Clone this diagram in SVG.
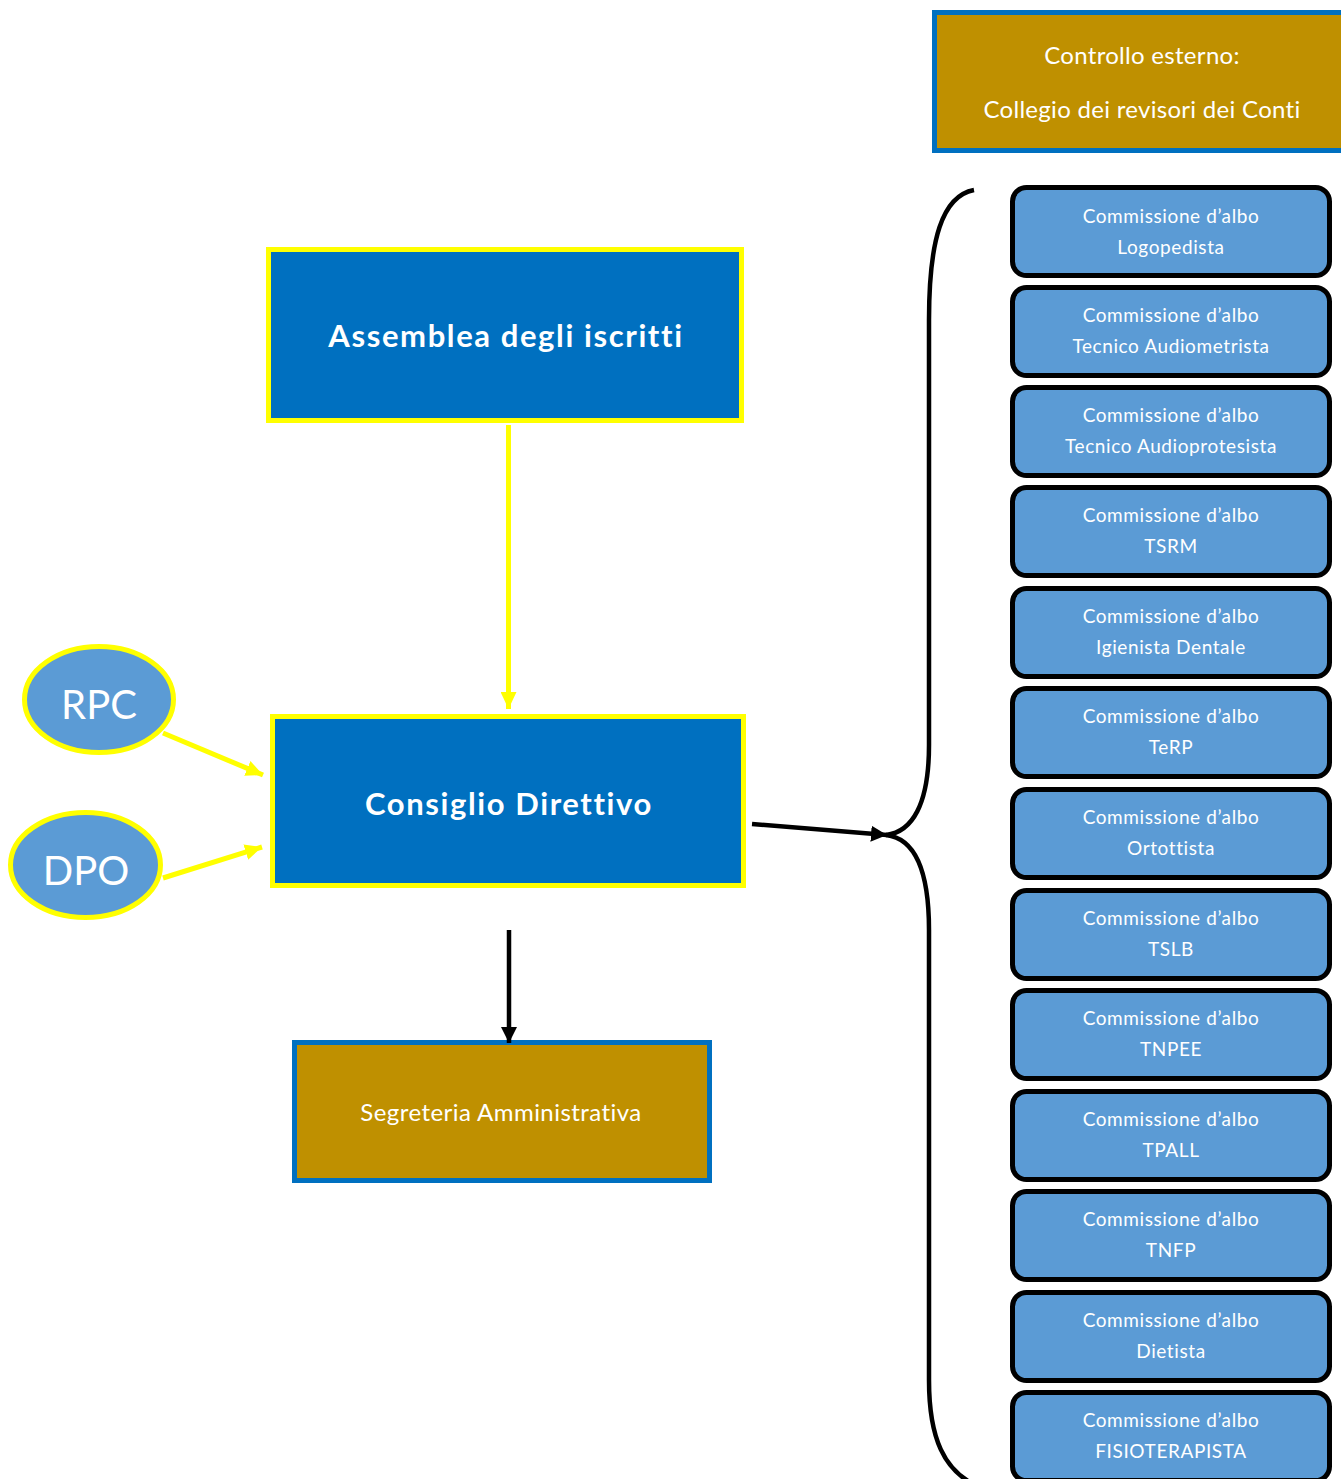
<svg xmlns="http://www.w3.org/2000/svg" width="1341" height="1479" viewBox="0 0 1341 1479">
<style>
.t{font-family:Lato,"Liberation Sans",sans-serif;fill:#fff;text-anchor:middle}
.b{font-weight:bold;font-size:31px;letter-spacing:1.6px}
.gold{fill:#BF9000;stroke:#0070C0;stroke-width:5}
.main{fill:#0070C0;stroke:#FFFF00;stroke-width:5}
.ell{fill:#5B9BD5;stroke:#FFFF00;stroke-width:5}
.com{fill:#5B9BD5;stroke:#000;stroke-width:5}
.ct{font-size:19px;letter-spacing:0.6px}
.ce{font-size:24px;letter-spacing:0.3px}
.ya{stroke:#FFFF00;stroke-width:5;fill:none}
.ka{stroke:#000;stroke-width:4.5;fill:none}
</style>
<defs>
<marker id="ay" markerUnits="userSpaceOnUse" markerWidth="18" markerHeight="16" refX="17" refY="8" orient="auto"><path d="M0,0 L17,8 L0,16 z" fill="#FFFF00"/></marker>
<marker id="ak" markerUnits="userSpaceOnUse" markerWidth="17" markerHeight="16" refX="16" refY="8" orient="auto"><path d="M0,0 L16,8 L0,16 z" fill="#000"/></marker>
</defs>

<g id="controllo">
<rect class="gold" x="934.5" y="12.5" width="420" height="138"/>
<text class="t ce" x="1142" y="64">Controllo esterno:</text>
<text class="t ce" x="1142" y="118">Collegio dei revisori dei Conti</text>
</g>

<g id="assemblea">
<rect class="main" x="268.5" y="249.5" width="473" height="171"/>
<text class="t b" x="506" y="347">Assemblea degli iscritti</text>
</g>

<g id="consiglio">
<rect class="main" x="272.5" y="716.5" width="471" height="169"/>
<text class="t b" x="509" y="815">Consiglio Direttivo</text>
</g>

<g id="rpc">
<ellipse class="ell" cx="99" cy="699.5" rx="74.5" ry="53"/>
<text class="t" x="99" y="719" font-size="40">RPC</text>
</g>

<g id="dpo">
<ellipse class="ell" cx="85.5" cy="865" rx="75" ry="52.5"/>
<text class="t" x="86" y="885" font-size="40">DPO</text>
</g>

<g id="segreteria">
<rect class="gold" x="294.5" y="1042.5" width="415" height="138"/>
<text class="t" x="501" y="1121" font-size="24" letter-spacing="0.45">Segreteria Amministrativa</text>
</g>

<g id="commissioni">
<g id="c1"><rect class="com" x="1012.5" y="187.5" width="317" height="88" rx="14"/><text class="t ct" x="1171" y="223">Commissione d’albo</text><text class="t ct" x="1171" y="254">Logopedista</text></g>
<g id="c2"><rect class="com" x="1012.5" y="287.5" width="317" height="88" rx="14"/><text class="t ct" x="1171" y="322">Commissione d’albo</text><text class="t ct" x="1171" y="353">Tecnico Audiometrista</text></g>
<g id="c3"><rect class="com" x="1012.5" y="387.5" width="317" height="88" rx="14"/><text class="t ct" x="1171" y="422">Commissione d’albo</text><text class="t ct" x="1171" y="453">Tecnico Audioprotesista</text></g>
<g id="c4"><rect class="com" x="1012.5" y="487.5" width="317" height="88" rx="14"/><text class="t ct" x="1171" y="522">Commissione d’albo</text><text class="t ct" x="1171" y="553">TSRM</text></g>
<g id="c5"><rect class="com" x="1012.5" y="588.5" width="317" height="88" rx="14"/><text class="t ct" x="1171" y="623">Commissione d’albo</text><text class="t ct" x="1171" y="654">Igienista Dentale</text></g>
<g id="c6"><rect class="com" x="1012.5" y="688.5" width="317" height="88" rx="14"/><text class="t ct" x="1171" y="723">Commissione d’albo</text><text class="t ct" x="1171" y="754">TeRP</text></g>
<g id="c7"><rect class="com" x="1012.5" y="789.5" width="317" height="88" rx="14"/><text class="t ct" x="1171" y="824">Commissione d’albo</text><text class="t ct" x="1171" y="855">Ortottista</text></g>
<g id="c8"><rect class="com" x="1012.5" y="890.5" width="317" height="88" rx="14"/><text class="t ct" x="1171" y="925">Commissione d’albo</text><text class="t ct" x="1171" y="956">TSLB</text></g>
<g id="c9"><rect class="com" x="1012.5" y="990.5" width="317" height="88" rx="14"/><text class="t ct" x="1171" y="1025">Commissione d’albo</text><text class="t ct" x="1171" y="1056">TNPEE</text></g>
<g id="c10"><rect class="com" x="1012.5" y="1091.5" width="317" height="88" rx="14"/><text class="t ct" x="1171" y="1126">Commissione d’albo</text><text class="t ct" x="1171" y="1157">TPALL</text></g>
<g id="c11"><rect class="com" x="1012.5" y="1191.5" width="317" height="88" rx="14"/><text class="t ct" x="1171" y="1226">Commissione d’albo</text><text class="t ct" x="1171" y="1257">TNFP</text></g>
<g id="c12"><rect class="com" x="1012.5" y="1292.5" width="317" height="88" rx="14"/><text class="t ct" x="1171" y="1327">Commissione d’albo</text><text class="t ct" x="1171" y="1358">Dietista</text></g>
<g id="c13"><rect class="com" x="1012.5" y="1392.5" width="317" height="88" rx="14"/><text class="t ct" x="1171" y="1427">Commissione d’albo</text><text class="t ct" x="1171" y="1458">FISIOTERAPISTA</text></g>
</g>

<g id="connectors">
<line class="ya" x1="508.5" y1="425" x2="508.5" y2="709" marker-end="url(#ay)"/>
<line class="ya" x1="163" y1="733" x2="263" y2="775" marker-end="url(#ay)"/>
<line class="ya" x1="163" y1="878" x2="262" y2="847" marker-end="url(#ay)"/>
<line class="ka" x1="509" y1="930" x2="509" y2="1043" marker-end="url(#ak)"/>
<line class="ka" x1="752" y1="824" x2="887" y2="835" marker-end="url(#ak)"/>
<path class="ka" d="M974,190 C942,196 929,240 929,320 L929,745 C929,805 912,832 886,835 C912,838 929,865 929,930 L929,1380 C929,1440 945,1470 975,1485"/>
</g>
</svg>
